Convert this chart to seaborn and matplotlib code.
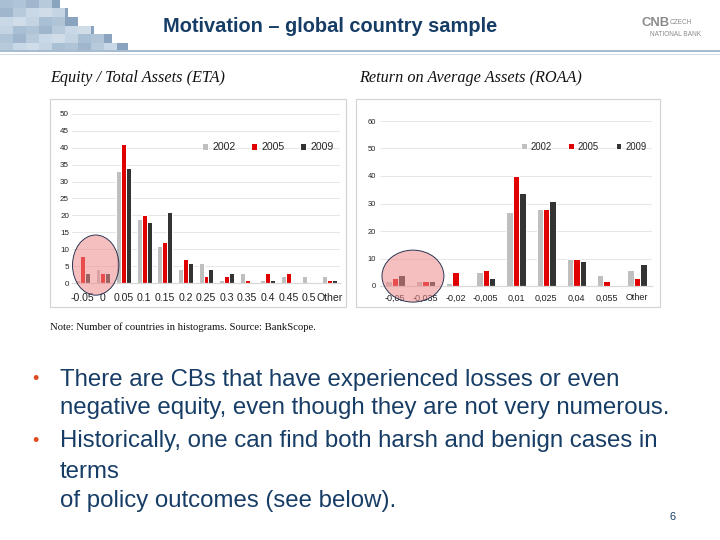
import matplotlib
matplotlib.use("Agg")
import matplotlib.pyplot as plt
from matplotlib.patches import Rectangle, Ellipse
import seaborn as sns
import pandas as pd

# Data (number of countries per bin)
years = ["2002", "2005", "2009"]
year_colors = ["#bfbfbf", "#e00000", "#333333"]

eta_bins = ["-0.05", "0", "0.05", "0.1", "0.15", "0.2", "0.25", "0.3",
            "0.35", "0.4", "0.45", "0.5", "Other"]
eta_2002 = [1, 4, 33, 19, 11, 4, 6, 1, 3, 1, 2, 2, 2]
eta_2005 = [8, 3, 41, 20, 12, 7, 2, 2, 1, 3, 3, 0, 1]
eta_2009 = [3, 3, 34, 18, 21, 6, 4, 3, 0, 1, 0, 0, 1]

roaa_bins = ["-0,05", "-0,035", "-0,02", "-0,005", "0,01", "0,025",
             "0,04", "0,055", "Other"]
roaa_2002 = [2, 2, 1, 5, 27, 28, 10, 4, 6]
roaa_2005 = [3, 2, 5, 6, 40, 28, 10, 2, 3]
roaa_2009 = [4, 2, 0, 3, 34, 31, 9, 0, 8]

navy = "#173d66"

sns.set_theme(style="white")
plt.rcParams['font.family'] = ['Liberation Sans', 'DejaVu Sans']

fig = plt.figure(figsize=(10, 7.5), dpi=72)


def px_axes(x0, y0, x1, y1, **kw):
    # axes placed in slide pixel coordinates (top-left origin)
    return fig.add_axes([x0 / 720, 1 - y1 / 540, (x1 - x0) / 720, (y1 - y0) / 540], **kw)


def long_frame(bins, series):
    rows = []
    for yr, vals in zip(years, series):
        for b, v in zip(bins, vals):
            rows.append((b, yr, v))
    return pd.DataFrame(rows, columns=["bin", "year", "count"])


def hist_chart(ax, bins, series, ymax, step, width, xpad, xsize, ysize, ypad,
               leg_y, leg_size, leg_gap):
    df = long_frame(bins, series)
    sns.barplot(data=df, x="bin", y="count", hue="year", palette=year_colors,
                width=width, saturation=1, ax=ax, order=bins, hue_order=years)
    ax.set_ylim(0, ymax)
    ax.set_xlim(-0.5, len(bins) - 0.5)
    ax.set_yticks(range(0, ymax + 1, step))
    ax.yaxis.grid(True, color="#e0e0e0", linewidth=0.8)
    ax.set_axisbelow(True)
    for s in ["top", "right", "left"]:
        ax.spines[s].set_visible(False)
    ax.spines["bottom"].set_color("#d9d9d9")
    ax.tick_params(axis="both", length=0, colors="#222222")
    ax.tick_params(axis="x", pad=xpad, labelsize=xsize)
    ax.tick_params(axis="y", pad=ypad, labelsize=ysize)
    ax.set_xlabel("")
    ax.set_ylabel("")
    ax.set_facecolor("none")
    h, l = ax.get_legend_handles_labels()
    ax.legend(h, l, loc="upper right", bbox_to_anchor=(1.0, leg_y), ncol=3,
              frameon=False, handlelength=0.6, handleheight=0.6,
              columnspacing=leg_gap, handletextpad=0.4, fontsize=leg_size,
              borderaxespad=0.2)


def circle(ax, cx, cy, w, h):
    ax.add_patch(Ellipse((cx, cy), w, h, facecolor="#f08c8c", alpha=0.55,
                         edgecolor="none", clip_on=False, zorder=5))
    ax.add_patch(Ellipse((cx, cy), w, h, facecolor="none",
                         edgecolor="#1b2a4a", linewidth=0.9, clip_on=False, zorder=6))


# left chart: ETA
ax1 = px_axes(72, 114, 340, 283)
hist_chart(ax1, eta_bins, [eta_2002, eta_2005, eta_2009], 50, 5, 0.72,
           10, 10.5, 8, 3, 0.87, 10.5, 1.45)
circle(ax1, 0.65, 5.3, 2.25, 17.8)

# right chart: ROAA
ax2 = px_axes(380, 121, 652, 286)
hist_chart(ax2, roaa_bins, [roaa_2002, roaa_2005, roaa_2009], 60, 10, 0.64,
           7.5, 9, 7.5, 4, 0.91, 9.5, 1.75)
circle(ax2, 0.59, 3.6, 2.05, 18.9)

# slide decorations on a full-page layer behind the charts
deco = fig.add_axes([0, 0, 1, 1], zorder=-1)
deco.set_xlim(0, 720)
deco.set_ylim(540, 0)
deco.axis("off")

mosaic = ["#a9bfd3", "#b7cadb", "#c4d4e2", "#9fb6cc", "#d0dde8", "#b0c4d8", "#c9d8e6"]
row_edges = [0, 8, 17, 26, 34, 43, 50]
row_ends = [60, 68, 78, 94, 112, 128]
for r in range(6):
    x = 0
    c = 0
    while x < row_ends[r]:
        w = min(13, row_ends[r] - x)
        col = mosaic[(r * 3 + c * 5) % len(mosaic)]
        if x + w >= row_ends[r]:
            col = "#8aa3bf"
        deco.add_patch(Rectangle((x, row_edges[r]), w, row_edges[r + 1] - row_edges[r],
                                 facecolor=col, edgecolor="none"))
        x += 13
        c += 1
deco.add_patch(Rectangle((0, 50), 720, 2.2, facecolor="#a8bccf", edgecolor="none"))
deco.add_patch(Rectangle((0, 53.5), 720, 1, facecolor="#d3dee8", edgecolor="none"))

# chart frames
deco.add_patch(Rectangle((50, 99), 296, 208, facecolor="white", edgecolor="#d4d4d4", linewidth=1.2))
deco.add_patch(Rectangle((356, 99), 304, 208, facecolor="white", edgecolor="#d4d4d4", linewidth=1.2))

deco.text(330, 26, "Motivation \u2013 global country sample", ha="center", va="center",
          fontsize=20, fontweight="bold", color=navy)
deco.text(641, 23, "CNB", ha="left", va="center", fontsize=13, color="#8c8c8c",
          fontweight="bold")
deco.text(670, 22, "CZECH", ha="left", va="center", fontsize=6.5, color="#8c8c8c")
deco.text(650, 35, "NATIONAL BANK", ha="left", va="center", fontsize=6.5, color="#8c8c8c")

serif = ["Liberation Serif", "DejaVu Serif"]
deco.text(50, 78, "Equity / Total Assets (ETA)", ha="left", va="center", fontsize=16.3,
          style="italic", family=serif, color="#111111")
deco.text(359, 78, "Return on Average Assets (ROAA)", ha="left", va="center", fontsize=16.3,
          style="italic", family=serif, color="#111111")
deco.text(50, 327, "Note: Number of countries in histograms. Source: BankScope.",
          ha="left", va="center", fontsize=10.6, family=serif, color="#111111")

bullet_lines = [
    (380, "There are CBs that have experienced losses or even", True),
    (408, "negative equity, even though they are not very numerous.", False),
    (441, "Historically, one can find both harsh and benign cases in", True),
    (472, "terms", False),
    (501, "of policy outcomes (see below).", False),
]
for y, txt, bullet in bullet_lines:
    if bullet:
        deco.text(35, y, "\u2022", ha="center", va="center", fontsize=18, color="#e04a1f")
    deco.text(60, y, txt, ha="left", va="center", fontsize=24, color=navy)

deco.text(673, 517, "6", ha="center", va="center", fontsize=11, color=navy)

fig.savefig("out.png", dpi=72, facecolor="white")
